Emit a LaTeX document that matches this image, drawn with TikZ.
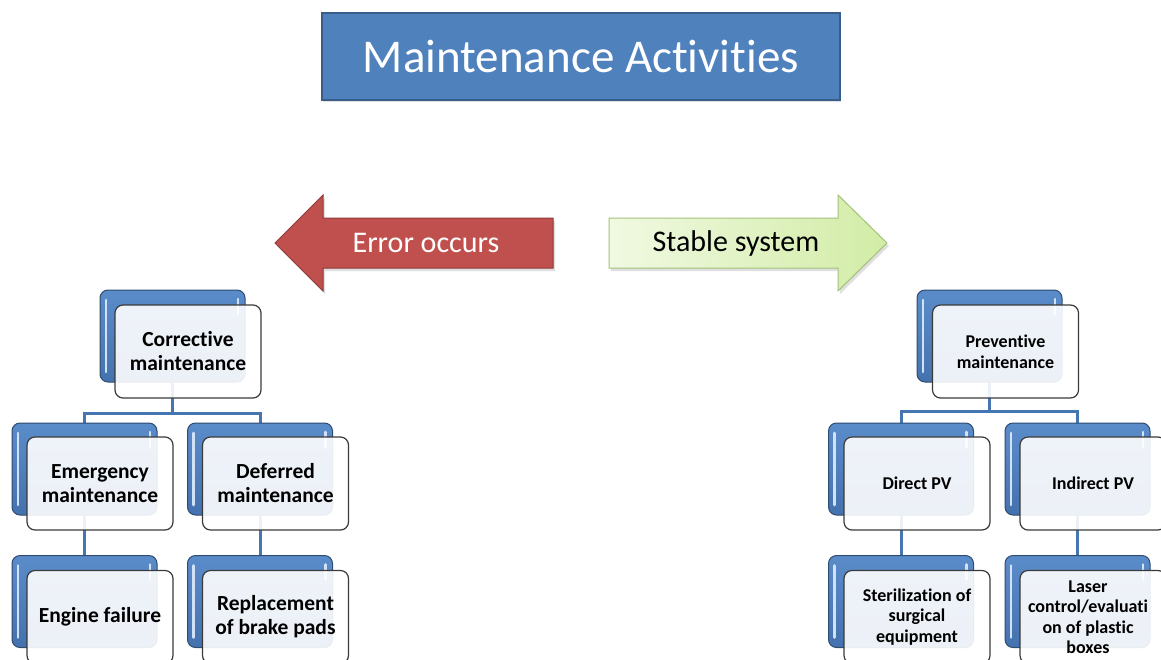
\documentclass[tikz,border=0pt]{standalone}
\usepackage{fontspec}
\setmainfont{Carlito}[Ligatures=NoCommon]
\usetikzlibrary{backgrounds,shadows}

\definecolor{titleblue}{HTML}{4F81BD}
\definecolor{titleedge}{HTML}{385D8A}
\definecolor{boxtop}{HTML}{5B8CCA}
\definecolor{boxbot}{HTML}{4472AE}
\definecolor{boxedge}{HTML}{2E4B70}
\definecolor{glint}{HTML}{D2E2F6}
\definecolor{linkblue}{HTML}{4676B1}
\definecolor{errred}{HTML}{C0504D}
\definecolor{erredge}{HTML}{8E3B39}
\definecolor{okleft}{HTML}{F0F9E2}
\definecolor{okright}{HTML}{D2ECA6}
\definecolor{okedge}{HTML}{A3C27A}
\definecolor{frontedge}{HTML}{3A3A3A}

\tikzset{
  backbox/.style={rectangle, rounded corners=8pt, minimum width=145pt,
    minimum height=92pt, top color=boxtop, bottom color=boxbot,
    draw=boxedge, line width=1pt,
    path picture={
      \draw[glint, line width=2.6pt, line cap=round]
        ([xshift=6pt,yshift=-10pt]path picture bounding box.north west) --
        ([xshift=6pt,yshift=10pt]path picture bounding box.south west);
      \draw[glint, line width=2.6pt, line cap=round]
        ([xshift=-7pt,yshift=-9pt]path picture bounding box.north east) --
        ([xshift=-7pt,yshift=-24pt]path picture bounding box.north east);
    }},
  frontbox/.style={rectangle, rounded corners=8pt, minimum width=146pt,
    minimum height=93pt, fill=white, fill opacity=0.9, text opacity=1,
    draw=frontedge, draw opacity=1, line width=1.2pt, align=center,
    inner sep=2pt},
  bigtxt/.style={font=\bfseries\fontsize{21.5}{24}\selectfont},
  smalltxt/.style={font=\bfseries\fontsize{18}{20.5}\selectfont},
  link/.style={draw=linkblue, line width=3pt},
  arrowtxt/.style={font=\fontsize{30}{34}\selectfont},
}

\begin{document}
\begin{tikzpicture}[x=1pt,y=-1pt]
\useasboundingbox (0,0) rectangle (1161,659);
\clip (0,0) rectangle (1161,659);

% heading
\node[rectangle, minimum width=518pt, minimum height=87pt, fill=titleblue,
      draw=titleedge, line width=1.5pt, text=white,
      font=\fontsize{47}{50}\selectfont,
      drop shadow={shadow xshift=1pt, shadow yshift=-2pt, opacity=0.25}]
  (title) at (581,56.5) {Maintenance Activities};

% left-pointing red arrow
\fill[gray, opacity=0.25] (555,221) -- (325,221) -- (325,198) -- (277,246)
  -- (325,294) -- (325,271) -- (555,271) -- cycle;
\draw[fill=errred, draw=erredge, line width=1pt]
  (553,218) -- (323,218) -- (323,195) -- (275,243) -- (323,291)
  -- (323,268) -- (553,268) -- cycle;
\node[arrowtxt, text=white] (err) at (426,243) {Error occurs};

% right-pointing green arrow
\fill[gray, opacity=0.25] (611,221) -- (840,221) -- (840,198) -- (889,246)
  -- (840,294) -- (840,271) -- (611,271) -- cycle;
\draw[left color=okleft, right color=okright, draw=okedge, line width=1pt]
  (609,218) -- (838,218) -- (838,195) -- (887,243) -- (838,291)
  -- (838,268) -- (609,268) -- cycle;
\node[arrowtxt, text=black] (ok) at (736,243) {Stable system};

% corrective branch
\node[backbox] (corB) at (172.5,336) {};
\node[frontbox, bigtxt] (cor) at (188,351.5) {Corrective\\maintenance};
\node[backbox] (emeB) at (84.5,469) {};
\node[frontbox, bigtxt] (eme) at (100,483.5) {Emergency\\maintenance};
\node[backbox] (defB) at (260,469) {};
\node[frontbox, bigtxt] (def) at (275.5,483.5) {Deferred\\maintenance};
\node[backbox] (engB) at (84.5,601.5) {};
\node[frontbox, bigtxt] (eng) at (100,617) {Engine failure};
\node[backbox] (repB) at (260,601.5) {};
\node[frontbox, bigtxt] (rep) at (275.5,617) {Replacement\\of brake pads};

% preventive branch
\node[backbox] (prvB) at (989.5,336) {};
\node[frontbox, smalltxt] (prv) at (1005.5,351.5) {Preventive\\maintenance};
\node[backbox] (dirB) at (901,469) {};
\node[frontbox, smalltxt] (dir) at (917,483.5) {Direct PV};
\node[backbox] (indB) at (1077.5,469) {};
\node[frontbox, smalltxt] (ind) at (1093,483.5) {Indirect PV};
\node[backbox] (steB) at (901,601.5) {};
\node[frontbox, smalltxt] (ste) at (917,617) {Sterilization of\\surgical\\equipment};
\node[backbox] (lasB) at (1077.5,601.5) {};
\node[frontbox, smalltxt] (las) at (1093,617) {};
\node[smalltxt, align=center] (lastxt) at (1088,617)
  {Laser\\control/evaluati\\on of plastic\\boxes};

% tree links, kept behind the boxes
\begin{pgfonlayer}{background}
  \draw[link] (corB.center) -- ++(0,77) -| (emeB.north);
  \draw[link] (corB.center) -- ++(0,77) -| (defB.north);
  \draw[link] (emeB.center) -- (engB.center);
  \draw[link] (defB.center) -- (repB.center);
  \draw[link] (prvB.center) -- ++(0,75) -| (dirB.north);
  \draw[link] (prvB.center) -- ++(0,75) -| (indB.north);
  \draw[link] (dirB.center) -- (steB.center);
  \draw[link] (indB.center) -- (lasB.center);
\end{pgfonlayer}
\end{tikzpicture}
\end{document}
